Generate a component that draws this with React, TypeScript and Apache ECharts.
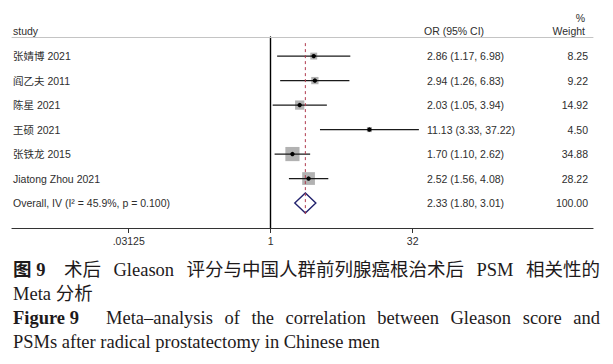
import React, { useEffect, useRef } from "react";
import * as echarts from "echarts";

// ---------- data ----------
const STUDIES = ["张婧博 2021", "阎乙夫 2011", "陈星 2021", "王硕 2021", "张铁龙 2015", "Jiatong Zhou 2021"];
const OR = [2.86, 2.94, 2.03, 11.13, 1.7, 2.52];
const CI_LOW = [1.17, 1.26, 1.05, 3.33, 1.1, 1.56];
const CI_HIGH = [6.98, 6.83, 3.94, 37.22, 2.62, 4.08];
const WEIGHTS = [8.25, 9.22, 14.92, 4.5, 34.88, 28.22];
const OVERALL_LABEL = "Overall, IV (I² = 45.9%, p = 0.100)";
const OVERALL_OR = 2.33;
const OVERALL_LOW = 1.8;
const OVERALL_HIGH = 3.01;
const OVERALL_WEIGHT = 100.0;
const TICK_VALUES = [0.03125, 1, 32];
const TICK_LABELS = [".03125", "1", "32"];
const HEADERS = ["study", "OR (95% CI)", "%", "Weight"];
const CAPTION_1 = ["图 9", "术后", "Gleason", "评分与中国人群前列腺癌根治术后", "PSM", "相关性的"];
const CAPTION_2 = "Meta 分析";
const CAPTION_3 = ["Figure 9", "Meta–analysis", "of", "the", "correlation", "between", "Gleason", "score", "and"];
const CAPTION_4 = "PSMs after radical prostatectomy in Chinese men";

// ---------- layout / style ----------
const SANS = "'Liberation Sans', 'Noto Sans CJK SC', sans-serif";
const SERIF = "'Liberation Serif', 'Noto Sans CJK SC', serif";
const TXT = "#2e2e2e";
const X_MIN = -9.109;
const X_MAX = 11.349;
const Y_MIN = 0.22;
const Y_MAX = 8.02;
const STUDY_X = 13;
const OR_X = 427;
const WEIGHT_X = 588;
const FS = 10.5;
const CAP_FS = 18.5;

const log2 = (v: number) => Math.log(v) / Math.LN2;
const f2 = (v: number) => v.toFixed(2);

let measureCtx: CanvasRenderingContext2D | null = null;
function measure(text: string, font: string) {
  if (!measureCtx) measureCtx = document.createElement("canvas").getContext("2d");
  measureCtx!.font = font;
  return measureCtx!.measureText(text).width;
}

function justify(tokens: string[], x0: number, x1: number, font: string) {
  const widths = tokens.map((t) => measure(t, font));
  const total = widths.reduce((a, b) => a + b, 0);
  const gap = tokens.length > 1 ? (x1 - x0 - total) / (tokens.length - 1) : 0;
  const xs: number[] = [];
  let x = x0;
  widths.forEach((w) => {
    xs.push(x);
    x += w + gap;
  });
  return xs;
}

function buildOption() {
  const n = STUDIES.length;
  const rows: number[][] = STUDIES.map((_, i) => [log2(OR[i]), log2(CI_LOW[i]), log2(CI_HIGH[i]), WEIGHTS[i], i + 1, 0]);
  rows.push([log2(OVERALL_OR), log2(OVERALL_LOW), log2(OVERALL_HIGH), OVERALL_WEIGHT, n + 1, 1]);

  const labelOf = (i: number) => (i < n ? STUDIES[i] : OVERALL_LABEL);
  const orTextOf = (i: number) =>
    i < n
      ? `${f2(OR[i])} (${f2(CI_LOW[i])}, ${f2(CI_HIGH[i])})`
      : `${f2(OVERALL_OR)} (${f2(OVERALL_LOW)}, ${f2(OVERALL_HIGH)})`;
  const weightOf = (i: number) => (i < n ? f2(WEIGHTS[i]) : f2(OVERALL_WEIGHT));

  const text = (x: number, y: number, t: string, align: string, font = SANS, fs = FS, weight = "normal", fill = TXT) => ({
    type: "text",
    x,
    y,
    style: { text: t, fill, fontSize: fs, fontFamily: font, fontWeight: weight, align, verticalAlign: "middle" },
    silent: true,
  });

  const renderItem = (params: any, api: any) => {
    const i = params.dataIndex;
    const row = api.value(4);
    const c = api.coord([api.value(0), row]);
    const l = api.coord([api.value(1), row]);
    const h = api.coord([api.value(2), row]);
    const children: any[] = [];
    if (api.value(5) === 0) {
      const side = 2.4 * Math.sqrt(api.value(3));
      children.push({
        type: "rect",
        shape: { x: c[0] - side / 2, y: c[1] - side / 2, width: side, height: side },
        style: { fill: "#b2b2b2" },
      });
      children.push({
        type: "line",
        shape: { x1: l[0], y1: l[1], x2: h[0], y2: h[1] },
        style: { stroke: "#1a1a1a", lineWidth: 1.3 },
      });
      children.push({ type: "circle", shape: { cx: c[0], cy: c[1], r: 2.2 }, style: { fill: "#000" } });
    } else {
      const top = api.coord([api.value(0), 0.47]);
      const bot = api.coord([api.value(0), row + 0.45]);
      children.push({
        type: "polygon",
        shape: { points: [[l[0], c[1]], [c[0], c[1] - 10], [h[0], c[1]], [c[0], c[1] + 10]] },
        style: { fill: "none", stroke: "#23236e", lineWidth: 1.4 },
      });
      children.push({
        type: "line",
        shape: { x1: top[0], y1: top[1], x2: bot[0], y2: bot[1] },
        style: { stroke: "#b03a4e", lineWidth: 1, lineDash: [3, 3] },
      });
    }
    children.push(text(STUDY_X, c[1], labelOf(i), "left"));
    children.push(text(OR_X, c[1], orTextOf(i), "left"));
    children.push(text(WEIGHT_X, c[1], weightOf(i), "right"));
    return { type: "group", children };
  };

  const tickPos = TICK_VALUES.map(log2);
  const fmtTick = (v: number) => {
    const k = tickPos.findIndex((p) => Math.abs(p - v) < 1e-6);
    return k >= 0 ? TICK_LABELS[k] : "";
  };

  // caption
  const capFont = `${CAP_FS}px ${SERIF}`;
  const graphics: any[] = [];
  graphics.push(text(STUDY_X, 31, HEADERS[0], "left"));
  graphics.push(text(424, 31, HEADERS[1], "left"));
  graphics.push(text(585, 18, HEADERS[2], "right"));
  graphics.push(text(585, 31, HEADERS[3], "right"));

  const CAP_COLOR = "#1e1a1b";
  graphics.push(text(13, 270, CAPTION_1[0], "left", SERIF, CAP_FS, "bold", CAP_COLOR));
  const rest1 = CAPTION_1.slice(1);
  const xs1 = justify(rest1, 64, 600, capFont);
  rest1.forEach((t, k) => graphics.push(text(xs1[k], 270, t, "left", SERIF, CAP_FS, "normal", CAP_COLOR)));
  graphics.push(text(13, 294, CAPTION_2, "left", SERIF, CAP_FS, "normal", CAP_COLOR));
  graphics.push(text(13, 318, CAPTION_3[0], "left", SERIF, CAP_FS, "bold", CAP_COLOR));
  const rest3 = CAPTION_3.slice(1);
  const xs3 = justify(rest3, 106, 600, capFont);
  rest3.forEach((t, k) => graphics.push(text(xs3[k], 318, t, "left", SERIF, CAP_FS, "normal", CAP_COLOR)));
  graphics.push(text(13, 342, CAPTION_4, "left", SERIF, CAP_FS, "normal", CAP_COLOR));

  return {
    animation: false,
    backgroundColor: "#ffffff",
    grid: { left: 12, right: 20, top: 37, bottom: 136, containLabel: false },
    xAxis: [
      {
        type: "value",
        min: X_MIN,
        max: X_MAX,
        position: "bottom",
        axisLine: { show: true, onZero: false, lineStyle: { color: "#333", width: 1.2 } },
        axisTick: { show: true, customValues: tickPos, length: 5, lineStyle: { color: "#333", width: 1 } },
        axisLabel: {
          show: true,
          customValues: tickPos,
          formatter: fmtTick,
          color: TXT,
          fontSize: FS,
          fontFamily: SANS,
          margin: 8,
        },
        splitLine: { show: false },
      },
      {
        type: "value",
        min: X_MIN,
        max: X_MAX,
        position: "top",
        axisLine: { show: true, onZero: false, lineStyle: { color: "#c4c4c4", width: 1 } },
        axisTick: { show: false },
        axisLabel: { show: false },
        splitLine: { show: false },
      },
    ],
    yAxis: {
      type: "value",
      inverse: true,
      min: Y_MIN,
      max: Y_MAX,
      axisLine: { show: true, onZero: true, onZeroAxisIndex: 0, lineStyle: { color: "#000", width: 1.4 } },
      axisTick: { show: false },
      axisLabel: { show: false },
      splitLine: { show: false },
    },
    series: [
      {
        type: "custom",
        xAxisIndex: 0,
        yAxisIndex: 0,
        renderItem,
        encode: { x: [0, 1, 2], y: 4 },
        data: rows,
        clip: false,
        silent: true,
      },
    ],
    graphic: graphics,
  };
}

export default function App() {
  const ref = useRef<HTMLDivElement>(null);
  useEffect(() => {
    if (!ref.current) return;
    const chart = echarts.init(ref.current, null, { renderer: "svg" });
    chart.setOption(buildOption() as any);
    return () => chart.dispose();
  }, []);
  return (
    <div
      ref={ref}
      style={{ position: "fixed", left: 0, top: 0, width: 613, height: 364, background: "#fff" }}
    />
  );
}
